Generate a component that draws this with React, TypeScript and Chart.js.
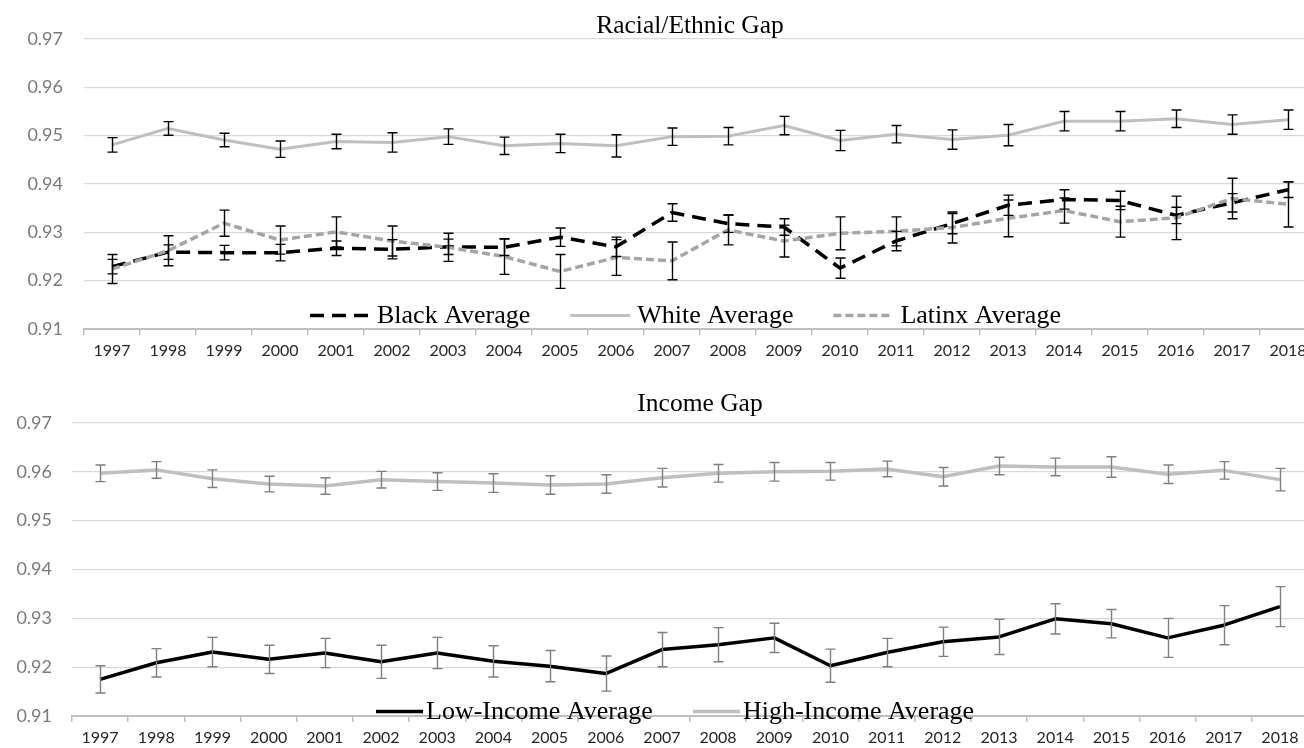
import React, { useEffect, useRef } from 'react';
import { Chart, registerables } from 'chart.js';

Chart.register(...registerables);

// Survey years shared by both panels
const years = [
  '1997', '1998', '1999', '2000', '2001', '2002', '2003', '2004', '2005', '2006', '2007',
  '2008', '2009', '2010', '2011', '2012', '2013', '2014', '2015', '2016', '2017', '2018',
];

// Racial/ethnic gap: averages and error-bar half widths
const blackAvg = [0.9229, 0.9259, 0.9258, 0.9258, 0.9267, 0.9265, 0.927, 0.9269, 0.929, 0.927, 0.9341, 0.9318, 0.9311, 0.9226, 0.9282, 0.9318, 0.9356, 0.9368, 0.9366, 0.9335, 0.9361, 0.9388];
const blackErr = [0.0015, 0.0015, 0.0015, 0.0017, 0.0015, 0.002, 0.0016, 0.0017, 0.0019, 0.002, 0.0018, 0.0018, 0.0017, 0.0021, 0.002, 0.0021, 0.0021, 0.002, 0.0019, 0.0017, 0.0019, 0.0016];
const whiteAvg = [0.9481, 0.9515, 0.9491, 0.9472, 0.9488, 0.9486, 0.9498, 0.9479, 0.9484, 0.9479, 0.9498, 0.9499, 0.9521, 0.949, 0.9503, 0.9492, 0.9501, 0.953, 0.953, 0.9535, 0.9523, 0.9533];
const whiteErr = [0.0015, 0.0014, 0.0014, 0.0017, 0.0015, 0.002, 0.0016, 0.0018, 0.0019, 0.0023, 0.0018, 0.0018, 0.0019, 0.0021, 0.0018, 0.002, 0.0022, 0.002, 0.002, 0.0018, 0.002, 0.002];
const latinxAvg = [0.9224, 0.9262, 0.9319, 0.9284, 0.9301, 0.9282, 0.9269, 0.925, 0.9219, 0.9248, 0.9241, 0.9305, 0.9282, 0.9298, 0.9302, 0.931, 0.9329, 0.9345, 0.9322, 0.933, 0.937, 0.9358];
const latinxErr = [0.003, 0.0031, 0.0027, 0.0029, 0.0031, 0.0031, 0.0029, 0.0037, 0.0035, 0.0037, 0.0039, 0.0031, 0.0033, 0.0034, 0.003, 0.0032, 0.0038, 0.0026, 0.0032, 0.0045, 0.0042, 0.0047];

// Income gap: averages and error-bar half widths
const lowIncome = [0.9175, 0.9209, 0.9231, 0.9216, 0.9229, 0.9211, 0.9229, 0.9212, 0.9202, 0.9187, 0.9236, 0.9246, 0.926, 0.9203, 0.923, 0.9252, 0.9262, 0.9299, 0.9289, 0.926, 0.9286, 0.9324];
const lowErr = [0.0028, 0.0029, 0.003, 0.0029, 0.003, 0.0034, 0.0032, 0.0032, 0.0032, 0.0036, 0.0035, 0.0035, 0.003, 0.0034, 0.0029, 0.003, 0.0036, 0.0031, 0.0029, 0.004, 0.004, 0.0041];
const highIncome = [0.9597, 0.9604, 0.9586, 0.9575, 0.9571, 0.9584, 0.958, 0.9577, 0.9573, 0.9575, 0.9588, 0.9597, 0.96, 0.9601, 0.9606, 0.959, 0.9612, 0.961, 0.961, 0.9595, 0.9603, 0.9584];
const highErr = [0.0017, 0.0017, 0.0018, 0.0016, 0.0017, 0.0017, 0.0018, 0.0019, 0.0019, 0.0019, 0.0019, 0.0018, 0.0019, 0.0018, 0.0016, 0.0019, 0.0018, 0.0018, 0.0021, 0.0019, 0.0018, 0.0023];

const yTicks = [0.91, 0.92, 0.93, 0.94, 0.95, 0.96, 0.97];

const SERIF = '"Liberation Serif", "Times New Roman", serif';
const SANS = 'Lato, "Open Sans", sans-serif';

// Draws a vertical error bar with caps at every point of datasets carrying `errors`
const errorBarPlugin = {
  id: 'errorBars',
  afterDatasetsDraw(chart: any, _args: any, opts: any) {
    const { ctx } = chart;
    const xs = chart.scales.x;
    const ys = chart.scales.y;
    const half = opts.cap / 2;
    ctx.save();
    ctx.strokeStyle = opts.color;
    ctx.lineWidth = opts.width;
    ctx.setLineDash([]);
    chart.data.datasets.forEach((ds: any) => {
      const errs: number[] | undefined = ds.errors;
      if (!errs) return;
      ds.data.forEach((v: number, i: number) => {
        const px = Math.round(xs.getPixelForValue(i)) + 0.5;
        const top = ys.getPixelForValue(v + errs[i]);
        const bot = ys.getPixelForValue(v - errs[i]);
        ctx.beginPath();
        ctx.moveTo(px, top);
        ctx.lineTo(px, bot);
        ctx.moveTo(px - half, top);
        ctx.lineTo(px + half, top);
        ctx.moveTo(px - half, bot);
        ctx.lineTo(px + half, bot);
        ctx.stroke();
      });
    });
    ctx.restore();
  },
};

// Panel heading plus an inline legend sitting on the bottom of the plot area
const headerLegendPlugin = {
  id: 'gapHeader',
  afterDraw(chart: any, _args: any, opts: any) {
    const { ctx } = chart;
    ctx.save();
    ctx.fillStyle = '#000';
    ctx.font = `${opts.titleSize}px ${SERIF}`;
    ctx.textBaseline = 'alphabetic';
    ctx.textAlign = 'center';
    ctx.fillText(opts.title, opts.titleX, opts.titleY);

    ctx.font = `${opts.legendSize}px ${SERIF}`;
    ctx.textAlign = 'left';
    let x = opts.legendX;
    const base = opts.legendY;
    const lineY = base - 7.5;
    chart.data.datasets.forEach((ds: any) => {
      ctx.save();
      ctx.strokeStyle = ds.borderColor;
      ctx.lineWidth = ds.borderWidth;
      ctx.lineCap = 'butt';
      ctx.setLineDash(ds.borderDash || []);
      ctx.beginPath();
      ctx.moveTo(x, lineY);
      ctx.lineTo(x + opts.sampleWidth, lineY);
      ctx.stroke();
      ctx.restore();
      x += opts.sampleWidth + opts.sampleGap;
      ctx.fillStyle = '#000';
      ctx.fillText(ds.label, x, base);
      x += ctx.measureText(ds.label).width + opts.itemGap;
    });
    ctx.restore();
  },
};

type SeriesSpec = {
  label: string;
  values: number[];
  errors: number[];
  color: string;
  width: number;
  dash: number[];
  order: number;
};

type PanelSpec = {
  series: SeriesSpec[];
  height: number;
  padTop: number;
  padRight: number;
  yAxisWidth: number;
  yPad: number;
  xAxisHeight: number;
  errColor: string;
  header: any;
};

function buildConfig(spec: PanelSpec): any {
  return {
    type: 'line',
    data: {
      labels: years,
      datasets: spec.series.map((s) => ({
        label: s.label,
        data: s.values,
        errors: s.errors,
        borderColor: s.color,
        backgroundColor: s.color,
        borderWidth: s.width,
        borderDash: s.dash,
        borderCapStyle: 'butt',
        borderJoinStyle: 'round',
        pointRadius: 0,
        pointHoverRadius: 0,
        tension: 0,
        fill: false,
        order: s.order,
      })),
    },
    options: {
      responsive: false,
      maintainAspectRatio: false,
      animation: false,
      devicePixelRatio: 1,
      events: [],
      layout: { padding: { top: spec.padTop, right: spec.padRight, left: 0, bottom: 0 } },
      plugins: {
        legend: { display: false },
        title: { display: false },
        tooltip: { enabled: false },
        errorBars: { color: spec.errColor, width: 1.4, cap: 10 },
        gapHeader: spec.header,
      },
      scales: {
        x: {
          type: 'category',
          offset: true,
          grid: {
            offset: true,
            drawOnChartArea: false,
            drawTicks: true,
            tickLength: 6,
            color: '#bfbfbf',
            lineWidth: 1.5,
          },
          border: { display: true, color: '#bfbfbf', width: 2 },
          ticks: {
            font: { family: SANS, size: 16 },
            color: '#262626',
            padding: 6,
            maxRotation: 0,
            autoSkip: false,
          },
          afterFit: (s: any) => {
            s.height = spec.xAxisHeight;
          },
        },
        y: {
          min: 0.91,
          max: 0.97,
          afterBuildTicks: (s: any) => {
            s.ticks = yTicks.map((v) => ({ value: v }));
          },
          ticks: {
            callback: (v: any) => Number(v).toFixed(2),
            font: { family: SANS, size: 18 },
            color: '#7a7a7a',
            padding: spec.yPad,
          },
          grid: { color: '#d9d9d9', lineWidth: 1.3, drawTicks: false },
          border: { display: false },
          afterFit: (s: any) => {
            s.width = spec.yAxisWidth;
          },
        },
      },
    },
    plugins: [errorBarPlugin, headerLegendPlugin],
  };
}

const racialPanel: PanelSpec = {
  height: 370,
  padTop: 39,
  padRight: 4,
  yAxisWidth: 84,
  yPad: 21,
  xAxisHeight: 41,
  errColor: '#000000',
  series: [
    { label: 'Black Average', values: blackAvg, errors: blackErr, color: '#000000', width: 3.5, dash: [14, 8], order: 3 },
    { label: 'White Average', values: whiteAvg, errors: whiteErr, color: '#bfbfbf', width: 3, dash: [], order: 2 },
    { label: 'Latinx Average', values: latinxAvg, errors: latinxErr, color: '#a5a5a5', width: 3.5, dash: [8, 4], order: 1 },
  ],
  header: {
    title: 'Racial/Ethnic Gap',
    titleSize: 25.5,
    titleX: 690,
    titleY: 33,
    legendSize: 26,
    legendX: 310,
    legendY: 323,
    sampleWidth: 60,
    sampleGap: 7,
    itemGap: 40,
  },
};

const incomePanel: PanelSpec = {
  height: 378,
  padTop: 53,
  padRight: 12,
  yAxisWidth: 72,
  yPad: 20,
  xAxisHeight: 32,
  errColor: '#7f7f7f',
  series: [
    { label: 'Low-Income Average', values: lowIncome, errors: lowErr, color: '#000000', width: 3.5, dash: [], order: 2 },
    { label: 'High-Income Average', values: highIncome, errors: highErr, color: '#bfbfbf', width: 3.5, dash: [], order: 1 },
  ],
  header: {
    title: 'Income Gap',
    titleSize: 25.5,
    titleX: 700,
    titleY: 41,
    legendSize: 26,
    legendX: 376,
    legendY: 349,
    sampleWidth: 47,
    sampleGap: 3,
    itemGap: 40,
  },
};

function GapPanel({ spec, top }: { spec: PanelSpec; top: number }) {
  const ref = useRef<HTMLCanvasElement>(null);
  useEffect(() => {
    if (!ref.current) return;
    const chart = new Chart(ref.current, buildConfig(spec));
    return () => chart.destroy();
  }, [spec]);
  return (
    <canvas
      ref={ref}
      width={1320}
      height={spec.height}
      style={{ position: 'absolute', left: 0, top, width: 1320, height: spec.height, display: 'block' }}
    />
  );
}

export default function App() {
  return (
    <div
      style={{
        position: 'fixed',
        left: 0,
        top: 0,
        width: 1304,
        height: 748,
        overflow: 'hidden',
        background: '#ffffff',
      }}
    >
      <GapPanel spec={racialPanel} top={0} />
      <GapPanel spec={incomePanel} top={370} />
    </div>
  );
}
